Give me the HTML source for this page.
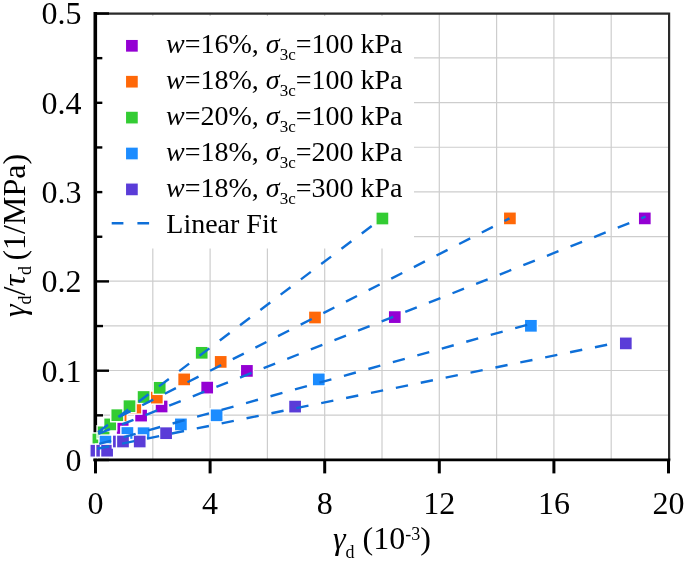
<!DOCTYPE html>
<html lang="en"><head><meta charset="utf-8"><title>Linear fit chart</title>
<style>
html,body{margin:0;padding:0;background:#fff;}
body{width:685px;height:561px;overflow:hidden;}
svg{display:block;}
text{font-family:"Liberation Serif",serif;fill:#000;}
.tk{font-size:32px;}
.lg{font-size:28px;}
.ti{font-size:32px;}
.i{font-style:italic;}
</style></head><body>
<svg width="685" height="561" viewBox="0 0 685 561">
<rect x="0" y="0" width="685" height="561" fill="#fff"/>
<g stroke="#cdcdcd" stroke-width="1.2" fill="none">
<line x1="152.80" y1="13" x2="152.80" y2="460"/>
<line x1="210.10" y1="13" x2="210.10" y2="460"/>
<line x1="267.40" y1="13" x2="267.40" y2="460"/>
<line x1="324.70" y1="13" x2="324.70" y2="460"/>
<line x1="382.00" y1="13" x2="382.00" y2="460"/>
<line x1="439.30" y1="13" x2="439.30" y2="460"/>
<line x1="496.60" y1="13" x2="496.60" y2="460"/>
<line x1="553.90" y1="13" x2="553.90" y2="460"/>
<line x1="611.20" y1="13" x2="611.20" y2="460"/>
<line x1="96" y1="415.15" x2="669" y2="415.15"/>
<line x1="96" y1="370.50" x2="669" y2="370.50"/>
<line x1="96" y1="325.85" x2="669" y2="325.85"/>
<line x1="96" y1="281.20" x2="669" y2="281.20"/>
<line x1="96" y1="236.55" x2="669" y2="236.55"/>
<line x1="96" y1="191.90" x2="669" y2="191.90"/>
<line x1="96" y1="147.25" x2="669" y2="147.25"/>
<line x1="96" y1="102.60" x2="669" y2="102.60"/>
<line x1="96" y1="57.95" x2="669" y2="57.95"/>
<line x1="96" y1="13.30" x2="669" y2="13.30"/>
</g>
<rect x="102.3" y="16" width="311.7" height="232.5" fill="#fff"/>
<path d="M96 13.7 H669.1 V460" stroke="#2a2a2a" stroke-width="2.2" fill="none"/>
<g stroke="#000" stroke-width="2.4" fill="none">
<line x1="96" y1="460.00" x2="109.00" y2="460.00"/>
<line x1="96" y1="415.35" x2="103.00" y2="415.35"/>
<line x1="96" y1="370.70" x2="109.00" y2="370.70"/>
<line x1="96" y1="326.05" x2="103.00" y2="326.05"/>
<line x1="96" y1="281.40" x2="109.00" y2="281.40"/>
<line x1="96" y1="236.75" x2="102.30" y2="236.75"/>
<line x1="96" y1="192.10" x2="102.30" y2="192.10"/>
<line x1="96" y1="147.45" x2="102.30" y2="147.45"/>
<line x1="96" y1="102.80" x2="102.30" y2="102.80"/>
<line x1="96" y1="58.15" x2="102.30" y2="58.15"/>
<line x1="96" y1="13.50" x2="109.00" y2="13.50"/>
</g>
<g stroke="#000" stroke-width="3" fill="none">
<line x1="95.50" y1="460" x2="95.50" y2="473.4"/>
<line x1="210.10" y1="460" x2="210.10" y2="473.4"/>
<line x1="324.70" y1="460" x2="324.70" y2="473.4"/>
<line x1="439.30" y1="460" x2="439.30" y2="473.4"/>
<line x1="553.90" y1="460" x2="553.90" y2="473.4"/>
<line x1="668.50" y1="460" x2="668.50" y2="473.4"/>
<path d="M95.3 11.9 V461.2" stroke-width="3.6"/>
<path d="M93.5 459.8 H670.3" stroke-width="2.8"/>
</g>
<rect x="92.8" y="434" width="5" height="24.4" fill="#fff"/>
<g fill="#9400D3" stroke="#fff" stroke-width="1.4">
<rect x="116.15" y="421.45" width="13.1" height="13.1"/>
<rect x="134.55" y="409.05" width="13.1" height="13.1"/>
<rect x="155.05" y="399.95" width="13.1" height="13.1"/>
<rect x="200.65" y="381.05" width="13.1" height="13.1"/>
<rect x="240.35" y="364.35" width="13.1" height="13.1"/>
<rect x="388.25" y="310.55" width="13.1" height="13.1"/>
<rect x="638.25" y="211.85" width="13.1" height="13.1"/>
</g>
<g fill="#FF6808" stroke="#fff" stroke-width="1.4">
<rect x="114.05" y="408.85" width="13.1" height="13.1"/>
<rect x="128.75" y="401.05" width="13.1" height="13.1"/>
<rect x="150.25" y="391.05" width="13.1" height="13.1"/>
<rect x="177.65" y="372.85" width="13.1" height="13.1"/>
<rect x="214.15" y="355.35" width="13.1" height="13.1"/>
<rect x="308.45" y="310.95" width="13.1" height="13.1"/>
<rect x="503.35" y="211.85" width="13.1" height="13.1"/>
</g>
<g fill="#33CC33" stroke="#fff" stroke-width="1.4">
<rect x="91.85" y="432.95" width="13.1" height="13.1"/>
<rect x="97.05" y="425.75" width="13.1" height="13.1"/>
<rect x="103.65" y="417.85" width="13.1" height="13.1"/>
<rect x="110.75" y="408.65" width="13.1" height="13.1"/>
<rect x="122.95" y="399.65" width="13.1" height="13.1"/>
<rect x="137.05" y="390.45" width="13.1" height="13.1"/>
<rect x="153.15" y="381.25" width="13.1" height="13.1"/>
<rect x="195.15" y="346.25" width="13.1" height="13.1"/>
<rect x="375.85" y="211.95" width="13.1" height="13.1"/>
</g>
<g fill="#1C8CFF" stroke="#fff" stroke-width="1.4">
<rect x="98.95" y="435.05" width="13.1" height="13.1"/>
<rect x="120.85" y="426.45" width="13.1" height="13.1"/>
<rect x="137.05" y="426.65" width="13.1" height="13.1"/>
<rect x="174.35" y="417.85" width="13.1" height="13.1"/>
<rect x="210.05" y="408.75" width="13.1" height="13.1"/>
<rect x="312.25" y="372.85" width="13.1" height="13.1"/>
<rect x="524.35" y="319.25" width="13.1" height="13.1"/>
</g>
<g fill="#5A3CD8" stroke="#fff" stroke-width="1.4">
<rect x="89.85" y="444.15" width="13.1" height="13.1"/>
<rect x="95.65" y="444.15" width="13.1" height="13.1"/>
<rect x="100.55" y="444.15" width="13.1" height="13.1"/>
<rect x="112.35" y="434.95" width="13.1" height="13.1"/>
<rect x="116.45" y="434.95" width="13.1" height="13.1"/>
<rect x="133.15" y="434.95" width="13.1" height="13.1"/>
<rect x="159.55" y="426.65" width="13.1" height="13.1"/>
<rect x="288.55" y="400.05" width="13.1" height="13.1"/>
<rect x="619.25" y="336.85" width="13.1" height="13.1"/>
</g>
<g stroke="#0E6FD8" stroke-width="2.4" fill="none" stroke-dasharray="12.4 13.0">
<line x1="98.36" y1="433.77" x2="645.58" y2="216.64"/>
<line x1="119.57" y1="416.77" x2="509.49" y2="218.42"/>
<line x1="98.08" y1="432.25" x2="382.00" y2="218.26"/>
<line x1="99.22" y1="443.96" x2="530.98" y2="323.73"/>
<line x1="97.22" y1="448.75" x2="618.94" y2="342.31"/>
</g>
<rect x="125.35" y="39.25" width="13.1" height="13.1" fill="#9400D3" stroke="#fff" stroke-width="1.4"/>
<text class="lg" x="166" y="53.1"><tspan class="i">w</tspan>=16%, <tspan class="i">σ</tspan><tspan font-size="17" dy="7.3">3c</tspan><tspan dy="-7.3">=100 kPa</tspan></text>
<rect x="125.35" y="75.15" width="13.1" height="13.1" fill="#FF6808" stroke="#fff" stroke-width="1.4"/>
<text class="lg" x="166" y="89.0"><tspan class="i">w</tspan>=18%, <tspan class="i">σ</tspan><tspan font-size="17" dy="7.3">3c</tspan><tspan dy="-7.3">=100 kPa</tspan></text>
<rect x="125.35" y="111.05" width="13.1" height="13.1" fill="#33CC33" stroke="#fff" stroke-width="1.4"/>
<text class="lg" x="166" y="124.9"><tspan class="i">w</tspan>=20%, <tspan class="i">σ</tspan><tspan font-size="17" dy="7.3">3c</tspan><tspan dy="-7.3">=100 kPa</tspan></text>
<rect x="125.35" y="146.95" width="13.1" height="13.1" fill="#1C8CFF" stroke="#fff" stroke-width="1.4"/>
<text class="lg" x="166" y="160.8"><tspan class="i">w</tspan>=18%, <tspan class="i">σ</tspan><tspan font-size="17" dy="7.3">3c</tspan><tspan dy="-7.3">=200 kPa</tspan></text>
<rect x="125.35" y="182.85" width="13.1" height="13.1" fill="#5A3CD8" stroke="#fff" stroke-width="1.4"/>
<text class="lg" x="166" y="196.7"><tspan class="i">w</tspan>=18%, <tspan class="i">σ</tspan><tspan font-size="17" dy="7.3">3c</tspan><tspan dy="-7.3">=300 kPa</tspan></text>
<line x1="111.7" y1="223.2" x2="150" y2="223.2" stroke="#0E6FD8" stroke-width="2.5" stroke-dasharray="11.7 14"/>
<text class="lg" x="166.3" y="232.6">Linear Fit</text>
<text class="tk" text-anchor="end" x="81.6" y="470.9">0</text>
<text class="tk" text-anchor="end" x="81.6" y="381.6">0.1</text>
<text class="tk" text-anchor="end" x="81.6" y="292.3">0.2</text>
<text class="tk" text-anchor="end" x="81.6" y="203.0">0.3</text>
<text class="tk" text-anchor="end" x="81.6" y="113.7">0.4</text>
<text class="tk" text-anchor="end" x="81.6" y="24.4">0.5</text>
<text class="tk" text-anchor="middle" x="95.5" y="514">0</text>
<text class="tk" text-anchor="middle" x="210.1" y="514">4</text>
<text class="tk" text-anchor="middle" x="324.7" y="514">8</text>
<text class="tk" text-anchor="middle" x="439.3" y="514">12</text>
<text class="tk" text-anchor="middle" x="553.9" y="514">16</text>
<text class="tk" text-anchor="middle" x="668.5" y="514">20</text>
<text class="ti" x="333" y="549.2"><tspan class="i">γ</tspan><tspan font-size="18" dy="8.5">d</tspan><tspan dy="-8.5"> (10</tspan><tspan font-size="18" dy="-9">-3</tspan><tspan dy="9">)</tspan></text>
<text class="ti" transform="translate(25.0,317) rotate(-90)"><tspan class="i">γ</tspan><tspan font-size="18" dy="6">d</tspan><tspan dy="-6">/</tspan><tspan class="i">τ</tspan><tspan font-size="18" dy="6">d</tspan><tspan dy="-6" dx="-2.5"> (1/MPa)</tspan></text>
</svg></body></html>
